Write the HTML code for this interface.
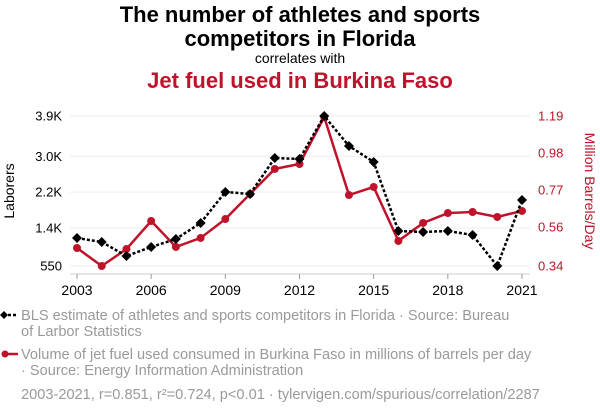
<!DOCTYPE html>
<html><head><meta charset="utf-8">
<style>
body{margin:0;background:#fff;font-family:"Liberation Sans",sans-serif;}
#wrap{position:relative;width:600px;height:414px;overflow:hidden;}
.t{position:absolute;left:0;width:600px;text-align:center;}
</style></head>
<body>
<div id="wrap">
<div class="t" style="top:3px;font-size:22px;font-weight:bold;line-height:24px;color:#000">The number of athletes and sports<br>competitors in Florida</div>
<div class="t" style="top:50px;font-size:14px;color:#000">correlates with</div>
<div class="t" style="top:68px;font-size:22px;font-weight:bold;color:#c0122a">Jet fuel used in Burkina Faso</div>
<svg id="svg" width="600" height="414" style="position:absolute;left:0;top:0"></svg>
</div>
<script>
const years=[2003,2004,2005,2006,2007,2008,2009,2010,2011,2012,2013,2014,2015,2016,2017,2018,2019,2020,2021];
const athletes=[1175,1086,773,974,1153,1510,2203,2158,2962,2940,3900,3230,2873,1332,1309,1332,1242,550,2024];
const jetFuel=[0.442,0.34,0.436,0.595,0.448,0.499,0.606,0.748,0.890,0.918,1.184,0.742,0.788,0.482,0.584,0.640,0.646,0.618,0.652];
const leftTicks=[550,1400,2200,3000,3900];
const leftTickLabels=["550","1.4K","2.2K","3.0K","3.9K"];
const rightTicks=[0.34,0.56,0.77,0.98,1.19];
const rightTickLabels=["0.34","0.56","0.77","0.98","1.19"];
const xTicks=[2003,2006,2009,2012,2015,2018,2021];

const NS="http://www.w3.org/2000/svg";
const svg=document.getElementById('svg');
const X0=77,X1=522,Y0=266,Y1=116;
const x=v=>X0+(v-2003)/(2021-2003)*(X1-X0);
const yL=v=>Y0-(v-550)/(3900-550)*(Y0-Y1);
const yR=v=>Y0-(v-0.34)/(1.19-0.34)*(Y0-Y1);
function mk(tag,attrs,parent){const e=document.createElementNS(NS,tag);for(const k in attrs)e.setAttribute(k,attrs[k]);(parent||svg).appendChild(e);return e;}

leftTicks.forEach((v,i)=>{
  const g=mk('line',{x1:70,x2:530,y1:yL(v),y2:yL(v),stroke:'#eee','stroke-width':1});
  
  
  const t=mk('text',{x:62,y:yL(v)+4.5,'text-anchor':'end','font-size':13,fill:'#000'});
  t.textContent=leftTickLabels[i];
  
  
});
rightTicks.forEach((v,i)=>{
  const t=mk('text',{x:538,y:yR(v)+4.5,'font-size':13,fill:'#c0122a'});
  t.textContent=rightTickLabels[i];
  
  
});
const ax=mk('line',{x1:70,x2:530,y1:274,y2:274,stroke:'#ccc','stroke-width':1});


xTicks.forEach(v=>{
  const tk=mk('line',{x1:x(v),x2:x(v),y1:274,y2:279,stroke:'#999'});
  
  
  const t=mk('text',{x:x(v),y:295,'text-anchor':'middle','font-size':14,fill:'#000'});
  t.textContent=v;
  
  
});
const lt=mk('text',{x:0,y:0,'text-anchor':'middle','font-size':14,fill:'#000',transform:'translate(14,191) rotate(-90)'});
lt.textContent='Laborers';


const rt=mk('text',{x:0,y:0,'text-anchor':'middle','font-size':14,fill:'#c0122a',transform:'translate(585,191) rotate(90)'});
rt.textContent='Million Barrels/Day';



const rp=mk('polyline',{points:jetFuel.map((v,i)=>x(years[i])+','+yR(v)).join(' '),fill:'none',stroke:'#c0122a','stroke-width':2.5});


jetFuel.forEach((v,i)=>{
  const c=mk('circle',{cx:x(years[i]),cy:yR(v),r:4,fill:'#c0122a'});
  
  
});
const bp=mk('polyline',{points:athletes.map((v,i)=>x(years[i])+','+yL(v)).join(' '),fill:'none',stroke:'#000','stroke-width':2.5,'stroke-dasharray':'3,2'});


athletes.forEach((v,i)=>{
  const cx=x(years[i]),cy=yL(v);
  const d=mk('polygon',{points:`${cx},${cy-5} ${cx+5},${cy} ${cx},${cy+5} ${cx-5},${cy}`,fill:'#000'});
  
  
});

function legText(lines,y0,name){
  lines.forEach((s,i)=>{
    const t=mk('text',{x:21,y:y0+i*16,'font-size':14.6,fill:'#9a9a9a'});
    t.textContent=s;
    
    
  });
}
const l1=mk('line',{x1:3,x2:18,y1:315,y2:315,stroke:'#000','stroke-width':2.5,'stroke-dasharray':'3,2'});


const l1d=mk('polygon',{points:'4,311 8,315 4,319 0,315',fill:'#000'});


legText(['BLS estimate of athletes and sports competitors in Florida · Source: Bureau','of Larbor Statistics'],320,'legend-athletes-text');
const l2=mk('line',{x1:3,x2:18,y1:354,y2:354,stroke:'#c0122a','stroke-width':2.5});


const l2c=mk('circle',{cx:5,cy:354,r:3.5,fill:'#c0122a'});


legText(['Volume of jet fuel used consumed in Burkina Faso in millions of barrels per day','· Source: Energy Information Administration'],359,'legend-jet-fuel-text');
const ft=mk('text',{x:21,y:399,'font-size':14.6,fill:'#9a9a9a'});
ft.textContent='2003-2021, r=0.851, r²=0.724, p<0.01 · tylervigen.com/spurious/correlation/2287';


</script>
</body></html>
